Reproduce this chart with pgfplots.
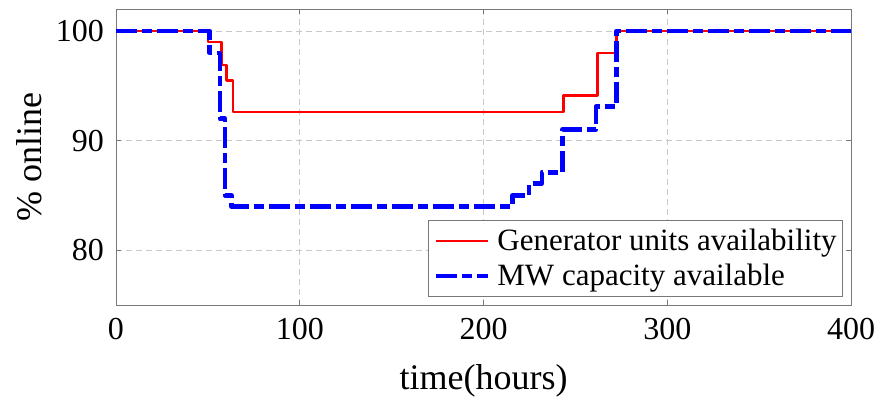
\documentclass[border=0pt]{standalone}
\usepackage{pgfplots}
\pgfplotsset{compat=1.18}
\usepackage{fontspec}
\setmainfont{Liberation Serif}
\definecolor{gridgray}{RGB}{200,200,200}
\definecolor{axgray}{RGB}{120,120,120}
\begin{document}
\begin{tikzpicture}
\begin{axis}[
  at={(0pt,0pt)}, anchor=south west,
  scale only axis, width=735pt, height=296pt,
  xmin=0, xmax=400, ymin=75, ymax=102,
  xtick={0,100,200,300,400}, ytick={80,90,100},
  /pgf/number format/assume math mode=true,
  ticklabel style={font=\fontsize{32}{32}\selectfont, inner sep=0pt},
  xticklabel style={yshift=-13pt},
  yticklabel style={xshift=-12pt},
  tick align=inside, major tick length=5pt,
  tick style={axgray, line width=0.6pt},
  axis line style={axgray, line width=0.8pt},
  grid=major,
  major grid style={gridgray, dash pattern=on 6pt off 4pt, line width=0.8pt},
  xlabel={time(hours)}, ylabel={\% online},
  label style={font=\fontsize{36}{36}\selectfont},
  xlabel style={at={(axis description cs:0.5,-0.2838)}, anchor=base},
  ylabel style={at={(axis description cs:-0.1007,0.5)}, anchor=base},
  legend image code/.code={\draw[#1] (0pt,0pt) -- (52pt,0pt); \path (59pt,0pt);},
  legend cell align=left,
  legend style={at={(1,0)}, anchor=south east, xshift=-8pt, yshift=8pt,
    font=\fontsize{31}{31}\selectfont, draw=axgray, line width=0.8pt,
    inner xsep=6pt, inner ysep=4pt, row sep=2pt,
    nodes={inner sep=0pt, text height=26pt, text depth=7pt}},
]
\addplot[red, line width=2.5pt, line join=round] coordinates {
 (0,100) (50.2,100) (50.2,99.0) (57.3,99.0) (57.3,96.9) (60.2,96.9)
 (60.2,95.5) (63.8,95.5) (63.8,92.6) (243.6,92.6) (243.6,94.1)
 (262,94.1) (262,98.0) (272.4,98.0) (272.4,100) (400,100)
};
\addlegendentry{Generator units availability}
\addplot[blue, line width=4.5pt, line join=round, dash pattern=on 21pt off 5pt on 10pt off 5pt] coordinates {
 (0,100) (51,100) (51,98) (56.5,98) (56.5,92) (59.3,92) (59.3,85)
 (62.8,85) (62.8,84) (215.8,84) (215.8,85) (224.8,85) (224.8,86.1)
 (231.7,86.1) (231.7,87.1) (243,87.1) (243,91.0) (261.2,91.0)
 (261.2,93.1) (272.4,93.1) (272.4,100) (400,100)
};
\addlegendentry{MW capacity available}
\end{axis}
\pgfresetboundingbox
\path[use as bounding box] (-116pt,-96pt) rectangle (765pt,305pt);
\end{tikzpicture}
\end{document}
